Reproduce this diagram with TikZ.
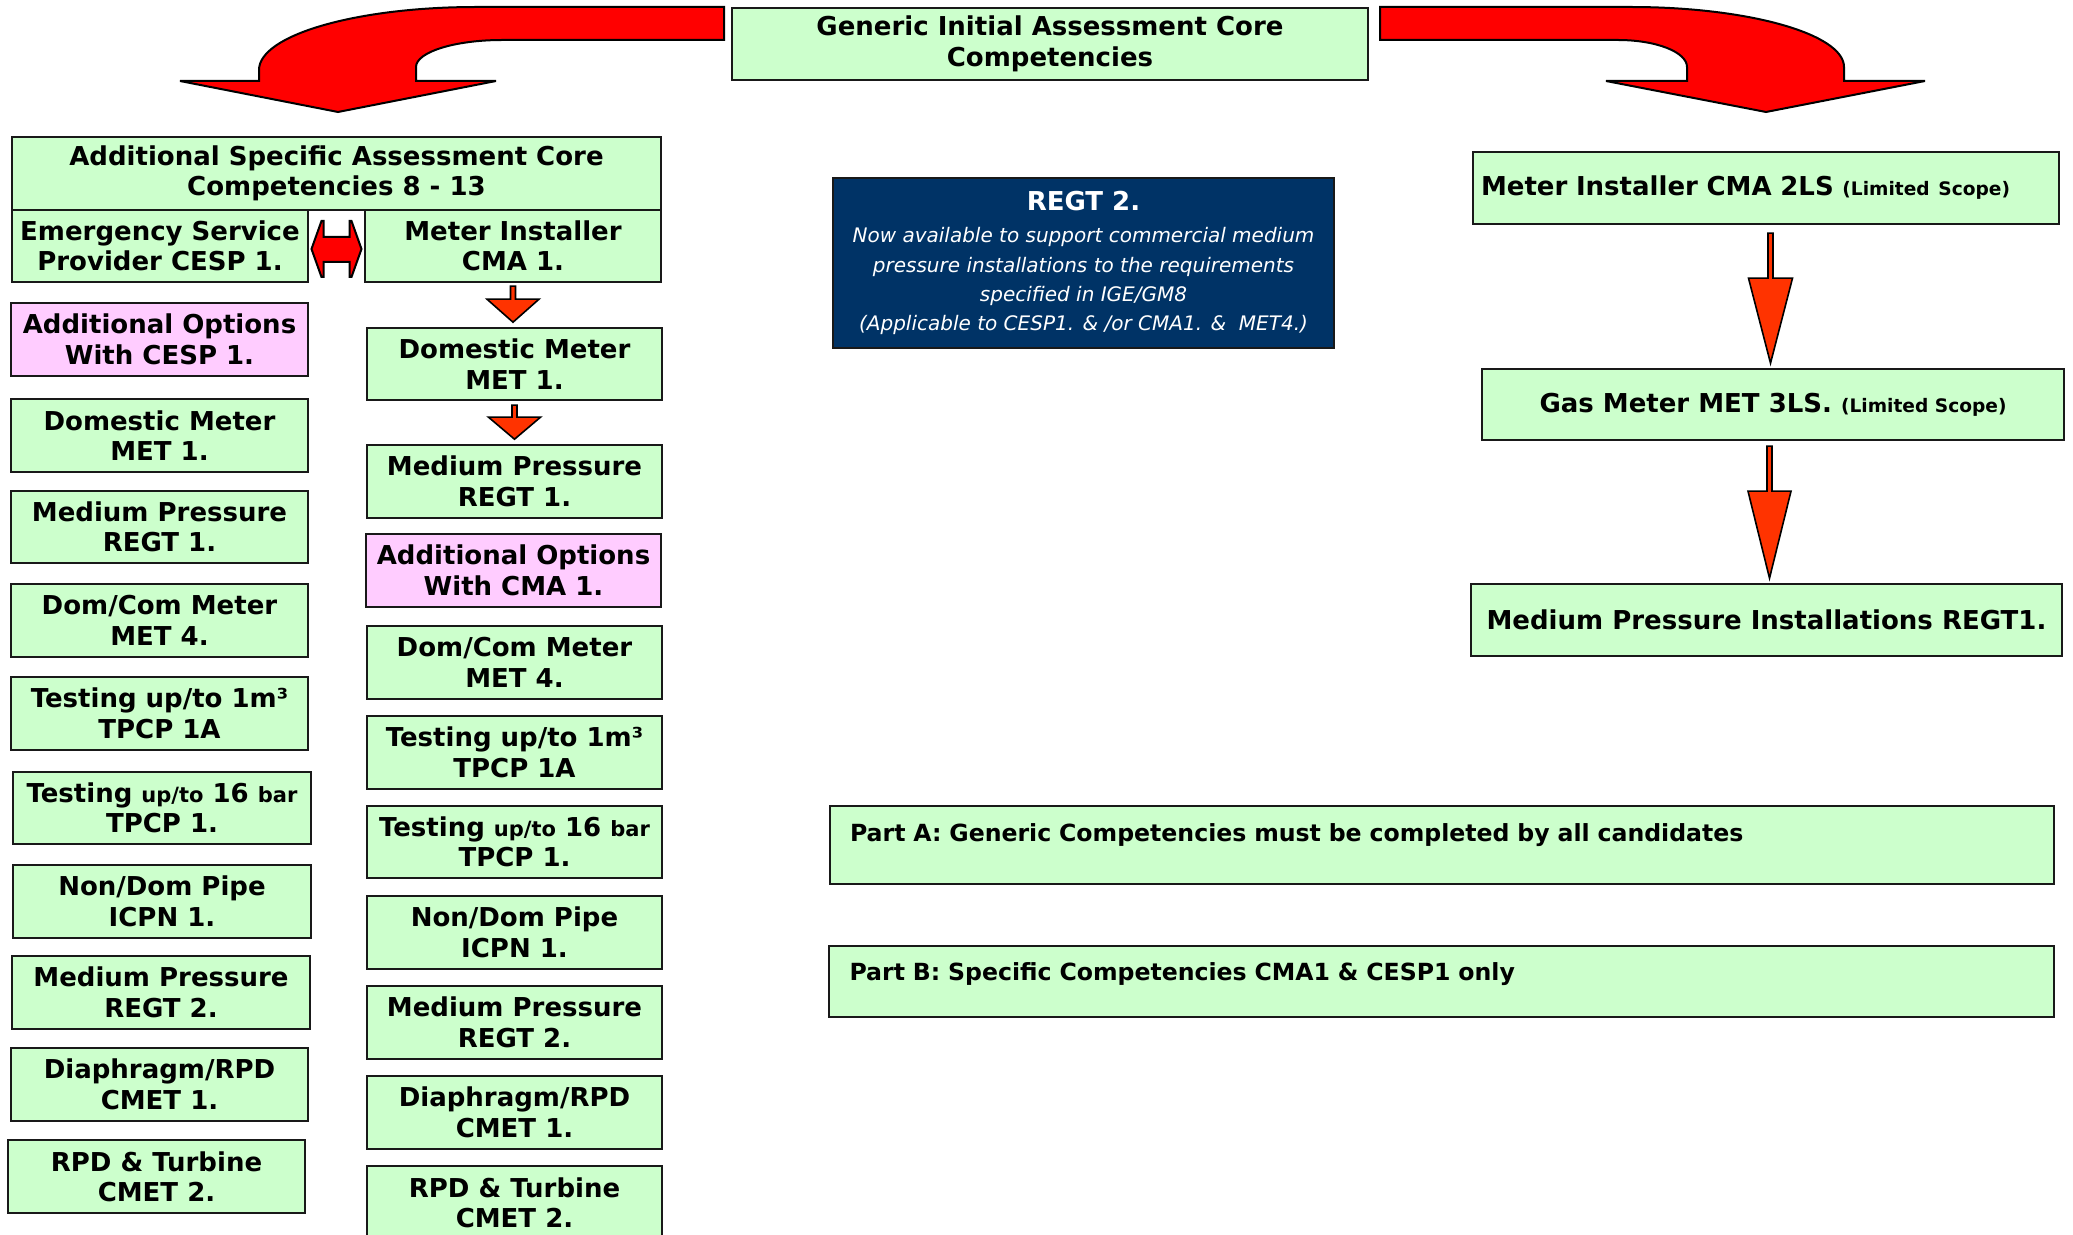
\documentclass[tikz,border=0pt]{standalone}
\usepackage{fontspec}
\setmainfont{DejaVu Sans}
\usetikzlibrary{calc}
\definecolor{boxgreen}{HTML}{CCFFCC}
\definecolor{boxpink}{HTML}{FFCCFF}
\definecolor{navyblue}{HTML}{003366}
\definecolor{arrred}{HTML}{FF0000}
\definecolor{arrorange}{HTML}{FF3300}
\newcommand\smallfnt{\fontsize{9.3}{11}\selectfont}
\newcommand\midfnt{\fontsize{10.5}{12}\selectfont}
\newcommand\mybox[7][gbox]{\node[#1, minimum width={(#5-#3)*0.5pt}, minimum height={(#6-#4)*0.5pt}] (#2) at ({(#3+#5)/2},{(#4+#6)/2}) {#7};}
\tikzset{
  gbox/.style={draw=black!90, line width=1.2pt, fill=boxgreen, align=center, inner sep=1pt,
    font=\fontsize{13}{15.2}\selectfont\bfseries},
  pbox/.style={gbox, fill=boxpink},
  smallarrow/.style={draw=black, line width=0.8pt, fill=arrorange, line join=miter},
  bigarrow/.style={draw=black, line width=1pt, fill=arrred, line join=miter},
}
\begin{document}
\begin{tikzpicture}[x=0.5pt, y=-0.5pt]
\useasboundingbox (0,0) rectangle (2073,1235);
\clip (0,0) rectangle (2073,1235);

% curved arrows
\draw[bigarrow] (724,7) -- (476,7) .. controls (357,7) and (259,35) .. (259,70) -- (259,81) -- (180,81) -- (338,112) -- (496,81) -- (416,81) -- (416,67) .. controls (416,52) and (455,40) .. (502,40) -- (724,40) -- cycle;
\draw[bigarrow] (1380,7) -- (1631,7) .. controls (1748,7) and (1844,34) .. (1844,67) -- (1844,81) -- (1925,81) -- (1766,112) -- (1606,81) -- (1687,81) -- (1687,67) .. controls (1687,52) and (1656,40) .. (1618,40) -- (1380,40) -- cycle;

% top
\mybox{gen}{732}{8}{1368}{80}{Generic Initial Assessment Core\\Competencies}
\mybox{addspec}{12}{137}{661}{210}{Additional Specific Assessment Core\\Competencies 8 - 13}
\mybox{cesp}{12}{210}{308}{282}{Emergency Service\\Provider CESP 1.}
\mybox{cma}{365}{210}{661}{282}{Meter Installer\\CMA 1.}

% left column
\mybox[pbox]{optcesp}{11}{303}{308}{376}{Additional Options\\With CESP 1.}
\mybox{ldom}{11}{399}{308}{472}{Domestic Meter\\MET 1.}
\mybox{lmpa}{11}{491}{308}{563}{Medium Pressure\\REGT 1.}
\mybox{ldc}{11}{584}{308}{657}{Dom/Com Meter\\MET 4.}
\mybox{ltesta}{11}{677}{308}{750}{Testing up/to 1m³\\TPCP 1A}
\mybox{ltestb}{13}{772}{311}{844}{Testing {\midfnt up/to} 16 {\midfnt bar}\\TPCP 1.}
\mybox{lnd}{13}{865}{311}{938}{Non/Dom Pipe\\ICPN 1.}
\mybox{lmpb}{12}{956}{310}{1029}{Medium Pressure\\REGT 2.}
\mybox{ldia}{11}{1048}{308}{1121}{Diaphragm/RPD\\CMET 1.}
\mybox{lrpd}{8}{1140}{305}{1213}{RPD \& Turbine\\CMET 2.}

% right column
\mybox{rdom}{367}{328}{662}{400}{Domestic Meter\\MET 1.}
\mybox{rmpa}{367}{445}{662}{518}{Medium Pressure\\REGT 1.}
\mybox[pbox]{optcma}{366}{534}{661}{607}{Additional Options\\With CMA 1.}
\mybox{rdc}{367}{626}{662}{699}{Dom/Com Meter\\MET 4.}
\mybox{rtesta}{367}{716}{662}{789}{Testing up/to 1m³\\TPCP 1A}
\mybox{rtestb}{367}{806}{662}{878}{Testing {\midfnt up/to} 16 {\midfnt bar}\\TPCP 1.}
\mybox{rnd}{367}{896}{662}{969}{Non/Dom Pipe\\ICPN 1.}
\mybox{rmpb}{367}{986}{662}{1059}{Medium Pressure\\REGT 2.}
\mybox{rdia}{367}{1076}{662}{1149}{Diaphragm/RPD\\CMET 1.}
\mybox{rrpd}{367}{1166}{662}{1240}{RPD \& Turbine\\CMET 2.}

% double arrow
\draw[bigarrow, shift={($(cesp.east)!0.5!(cma.west)+(0,3)$)}] (-25,0) -- (-15,-28) -- (-13,-28) -- (-13,-12) -- (13,-12) -- (13,-28) -- (15,-28) -- (25,0) -- (15,28) -- (13,28) -- (13,13) -- (-13,13) -- (-13,28) -- (-15,28) -- cycle;

% small arrows
\draw[smallarrow, shift={(cma.south)}] (-2.5,3) -- (2.5,3) -- (2.5,16) -- (26,16) -- (0,39) -- (-26,16) -- (-2.5,16) -- cycle;
\draw[smallarrow, shift={(rdom.south)}] (-2.5,4) -- (2.5,4) -- (2.5,16) -- (26,16) -- (0,38) -- (-26,16) -- (-2.5,16) -- cycle;

% REGT 2 box
\mybox[gbox, fill=navyblue, text=white, font=\fontsize{10}{14.7}\selectfont\itshape]{regt}{833}{178}{1334}{348}{{\fontsize{13}{16}\selectfont\bfseries\upshape REGT 2.}\\[1.5pt]Now available to support commercial medium\\pressure installations to the requirements\\specified in IGE/GM8\\(Applicable to CESP1. \& /or CMA1. \&\ \ MET4.)}

% right side
\mybox[gbox, text width=285pt, inner xsep=4pt, align=left]{cmals}{1475}{152}{2057}{224}{Meter Installer CMA 2LS {\smallfnt (Limited Scope)}}
\mybox{metls}{1482}{369}{2064}{440}{Gas Meter MET 3LS. {\smallfnt (Limited Scope)}}
\mybox{regtone}{1471}{584}{2062}{656}{Medium Pressure Installations REGT1.}

\draw[smallarrow, shift={(cmals.south)}] (2,8) -- (7,8) -- (7,53) -- (26.5,53) -- (4.5,138) -- (-17.5,53) -- (2,53) -- cycle;
\draw[smallarrow, shift={(metls.south)}] (-6,5) -- (-1,5) -- (-1,50) -- (18,50) -- (-3.5,137) -- (-25,50) -- (-6,50) -- cycle;

% parts
\mybox[gbox, text width=592pt, inner xsep=10pt, inner ysep=0pt, align=left, text height=17.5pt, text depth=21.5pt, font=\fontsize{11.8}{14}\selectfont\bfseries]{parta}{830}{806}{2054}{884}{Part A: Generic Competencies must be completed by all candidates}
\mybox[gbox, text width=592pt, inner xsep=10pt, inner ysep=0pt, align=left, text height=17pt, text depth=18.5pt, font=\fontsize{11.8}{14}\selectfont\bfseries]{partb}{829}{946}{2054}{1017}{Part B: Specific Competencies CMA1 \& CESP1 only}
\end{tikzpicture}
\end{document}
